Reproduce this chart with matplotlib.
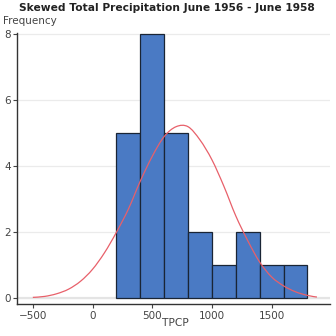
import matplotlib
matplotlib.use("Agg")
import matplotlib.pyplot as plt
from matplotlib.path import Path
from matplotlib.patches import PathPatch
import numpy as np

# Histogram data
bin_edges = [200, 400, 600, 800, 1000, 1200, 1400, 1600, 1800]
counts = [5, 8, 5, 2, 1, 2, 1, 1]

# Fitted curve
curve_x = [-500, -400, -300, -200, -100, 0, 100, 200, 300, 400, 500, 600, 700,
           800, 900, 1000, 1100, 1200, 1300, 1400, 1500, 1600, 1700, 1800, 1880]
curve_y = [0.03, 0.06, 0.14, 0.28, 0.52, 0.88, 1.38, 2.0, 2.7, 3.55, 4.3, 4.9, 5.2,
           5.2, 4.8, 4.2, 3.4, 2.5, 1.75, 1.1, 0.65, 0.38, 0.2, 0.09, 0.04]

x_ticks = [-500, 0, 500, 1000, 1500]
y_ticks = [0, 2, 4, 6, 8]

title = "Skewed Total Precipitation June 1956 - June 1958"

fig = plt.figure(figsize=(3.36, 3.36), dpi=100)
ax = fig.add_axes([0.0515, 0.0943, 0.9305, 0.8077])

lefts = bin_edges[:-1]
widths = np.diff(bin_edges)
ax.bar(lefts, counts, width=widths, align="edge", color="#4a7ac4",
       edgecolor="#1a2535", linewidth=0.9, zorder=2)

# Smooth curve through the read points (Catmull-Rom rendered as Bezier path)
P = np.column_stack([curve_x, curve_y]).astype(float)
n = len(P)
verts = [tuple(P[0])]
codes = [Path.MOVETO]
for i in range(n - 1):
    p0 = P[i - 1] if i > 0 else P[i]
    p1 = P[i]
    p2 = P[i + 1]
    p3 = P[i + 2] if i + 2 < n else P[i + 1]
    c1 = p1 + (p2 - p0) / 6.0
    c2 = p2 - (p3 - p1) / 6.0
    verts += [tuple(c1), tuple(c2), tuple(p2)]
    codes += [Path.CURVE4] * 3
ax.add_patch(PathPatch(Path(verts, codes), facecolor="none",
                       edgecolor="#e8606a", linewidth=0.9, zorder=3))

ax.set_xlim(-630, 1989)
ax.set_ylim(-0.18, 8.04)
ax.set_xticks(x_ticks)
ax.set_yticks(y_ticks)
ax.grid(axis="y", color="#ebebeb", linewidth=0.9, zorder=0)
ax.axhline(0, color="#e4e4e4", linewidth=1.6, zorder=1)
ax.set_axisbelow(True)

for s in ["top", "right"]:
    ax.spines[s].set_visible(False)
for s in ["left", "bottom"]:
    ax.spines[s].set_color("#333333")
    ax.spines[s].set_linewidth(1.0)

ax.tick_params(axis="both", labelsize=7.5, labelcolor="#444444", color="#444444",
               length=3, width=0.8, pad=1.5)

fig.text(0.497, 0.976, title, ha="center", va="center", fontsize=7.7,
         fontweight="bold", color="#222222")
fig.text(0.008, 0.937, "Frequency", ha="left", va="center", fontsize=7.5,
         color="#444444")
fig.text(0.521, 0.038, "TPCP", ha="center", va="center", fontsize=7.7,
         color="#444444")

fig.savefig("out.png", dpi=100)
